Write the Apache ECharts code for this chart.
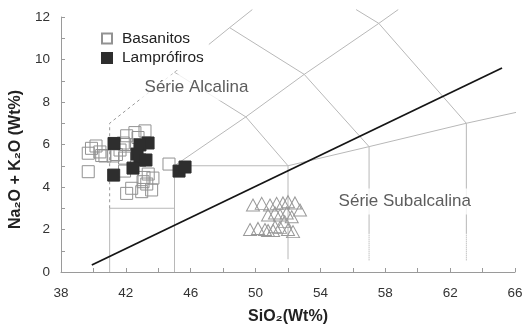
<!DOCTYPE html>
<html>
<head>
<meta charset="utf-8">
<script src="https://cdn.jsdelivr.net/npm/echarts@6/dist/echarts.min.js"></script>
<style>
  html, body { margin: 0; padding: 0; background: #fff; }
  #chart-tas { width: 525px; height: 330px; }
</style>
</head>
<body>
<div id="chart-tas"></div>
<script>
// amostras (SiO2, Na2O + K2O)
const basanitos = [
  [39.88, 5.82], [39.68, 5.59], [40.51, 5.48], [40.16, 5.93], [39.68, 4.72],
  [42.05, 6.41], [42.56, 6.56], [43.18, 6.64], [42.75, 6.33], [41.84, 6.07],
  [41.64, 5.74], [41.21, 5.46], [43.38, 4.61], [43.06, 4.25], [42.05, 3.70],
  [42.36, 3.94], [42.98, 3.78], [43.59, 3.86], [43.29, 4.14], [44.66, 5.08],
  [40.40, 5.65], [40.71, 5.46], [41.42, 5.53], [41.92, 6.00], [41.92, 5.36],
  [41.92, 4.75], [43.12, 4.45], [43.67, 4.42]
];
const lamprofiros = [
  [41.27, 6.05], [41.25, 4.56], [43.37, 6.07], [42.87, 5.98], [42.69, 5.55],
  [42.87, 5.27], [43.24, 5.27], [42.44, 4.89], [45.28, 4.75], [45.65, 4.94]
];
const outras = [
  [49.84, 3.15], [50.38, 3.23], [50.89, 3.15], [51.30, 3.23], [51.69, 3.25],
  [52.00, 3.31], [52.43, 3.25], [52.74, 2.92], [50.77, 2.68], [51.20, 2.78],
  [51.51, 2.68], [51.92, 2.78], [52.23, 2.60], [51.20, 2.13], [51.80, 2.37],
  [49.66, 2.00], [50.15, 2.05], [50.58, 2.00], [50.77, 1.95], [51.08, 1.95],
  [51.51, 2.10], [52.00, 2.00], [52.31, 1.90]
];

// campos do diagrama TAS
const camposTAS = [
  [[41, 0], [41, 3], [45, 3]],
  [[45, 0], [45, 5], [49.4, 7.3], [53, 9.3], [57.6, 11.7], [58.8, 12.35]],
  [[52, 0.6], [52, 5], [57, 5.9], [63, 7], [66.3, 7.55]],
  [[57, 1.8], [57, 5.9]],
  [[63, 1.8], [63, 7]],
  [[45, 5], [52, 5]],
  [[49.4, 7.3], [52, 5]],
  [[53, 9.3], [57, 5.9]],
  [[57.6, 11.7], [63, 7]],
  [[45, 9.4], [48.4, 11.5], [49.8, 12.35]],
  [[45, 9.4], [49.4, 7.3]],
  [[48.4, 11.5], [53, 9.3]],
  [[56.2, 12.35], [57.6, 11.7]]
];
const camposPontilhados = [
  [[57, 0.55], [57, 1.8]],
  [[63, 0.55], [63, 1.8]]
];
const campoTracejado = [[41, 3], [41, 7], [45, 9.4]];
const divisoria = [[39.9, 0.33], [65.2, 9.6]];

const rotulos = [
  { name: "Série Alcalina", value: [46.36, 8.68] },
  { name: "Série Subalcalina", value: [59.2, 3.32] }
];

const xTicks = [38, 42, 46, 50, 54, 58, 62, 66];
const yTicks = [0, 2, 4, 6, 8, 10, 12];

const chartDom = echarts.init(document.getElementById("chart-tas"));

const linhaCampo = (data, type, color) => ({
  type: "line",
  data: data,
  symbol: "none",
  silent: true,
  clip: false,
  z: 1,
  animation: false,
  lineStyle: { color: color, width: 1, type: type }
});

let series = [];
camposTAS.forEach((d) => series.push(linhaCampo(d, "solid", "#b8b8b8")));
camposPontilhados.forEach((d) => series.push(linhaCampo(d, "dotted", "#a8a8a8")));
series.push(linhaCampo(campoTracejado, [3, 3], "#999"));

series.push({
  type: "line",
  data: divisoria,
  symbol: "none",
  silent: true,
  z: 2,
  lineStyle: { color: "#151515", width: 1.8 }
});

series.push(
  {
    name: "Basanitos",
    type: "scatter",
    data: basanitos,
    symbol: "rect",
    symbolSize: 12,
    z: 3,
    itemStyle: { color: "rgba(255,255,255,0)", borderColor: "#929292", borderWidth: 1, opacity: 1 }
  },
  {
    name: "Lamprófiros",
    type: "scatter",
    data: lamprofiros,
    symbol: "rect",
    symbolSize: 12,
    z: 4,
    itemStyle: { color: "#2e2e2e", borderColor: "#2e2e2e", borderWidth: 1, opacity: 1 }
  },
  {
    name: "Outras",
    type: "scatter",
    data: outras,
    symbol: "triangle",
    symbolSize: [13, 12],
    z: 3,
    itemStyle: { color: "rgba(255,255,255,0)", borderColor: "#999", borderWidth: 1, opacity: 1 }
  },
  {
    type: "scatter",
    data: rotulos,
    symbolSize: 1,
    silent: true,
    z: 6,
    itemStyle: { color: "rgba(0,0,0,0)" },
    label: {
      show: true,
      position: "inside",
      formatter: "{b}",
      fontFamily: "Liberation Sans, Arial, sans-serif",
      fontSize: 17,
      color: "#333",
      backgroundColor: "#fff",
      padding: [8, 5, 1, 5]
    }
  }
);

chartDom.setOption({
  animation: false,
  grid: { left: 61, right: 10, top: 17, bottom: 58, outerBoundsMode: "none" },
  legend: {
    data: ["Basanitos", "Lamprófiros"],
    orient: "vertical",
    left: 97,
    top: 28,
    padding: [2.5, 5, 4, 4],
    itemGap: 3.5,
    itemWidth: 10,
    itemHeight: 10,
    icon: "rect",
    backgroundColor: "#fff",
    textStyle: {
      fontFamily: "Liberation Sans, Arial, sans-serif",
      fontSize: 15.5,
      color: "#222",
      padding: [0, 0, 0, 5]
    }
  },
  xAxis: {
    type: "value",
    min: 38,
    max: 66,
    interval: 2,
    name: "SiO₂(Wt%)",
    nameLocation: "middle",
    nameGap: 37,
    nameTextStyle: {
      fontFamily: "Liberation Sans, Arial, sans-serif",
      fontWeight: "bold",
      fontSize: 16,
      color: "#222"
    },
    splitLine: { show: false },
    axisLine: { lineStyle: { color: "#9a9a9a" } },
    axisTick: { inside: true, length: 4, lineStyle: { color: "#9a9a9a" } },
    axisLabel: {
      margin: 14,
      fontFamily: "Liberation Sans, Arial, sans-serif",
      fontSize: 13.5,
      color: "#333",
      formatter: (v) => (xTicks.indexOf(v) > -1 ? v : "")
    }
  },
  yAxis: {
    type: "value",
    min: 0,
    max: 12,
    interval: 1,
    name: "Na₂O + K₂O (Wt%)",
    nameLocation: "middle",
    nameGap: 33,
    nameTextStyle: {
      fontFamily: "Liberation Sans, Arial, sans-serif",
      fontWeight: "bold",
      fontSize: 16,
      color: "#222",
      padding: [0, 30, 0, 0]
    },
    splitLine: { show: false },
    axisLine: { show: true, lineStyle: { color: "#9a9a9a" } },
    axisTick: { show: true, inside: true, length: 4, lineStyle: { color: "#9a9a9a" } },
    axisLabel: {
      margin: 11,
      fontFamily: "Liberation Sans, Arial, sans-serif",
      fontSize: 13.5,
      color: "#333",
      formatter: (v) => (yTicks.indexOf(v) > -1 ? v : "")
    }
  },
  series: series
});
</script>
</body>
</html>
